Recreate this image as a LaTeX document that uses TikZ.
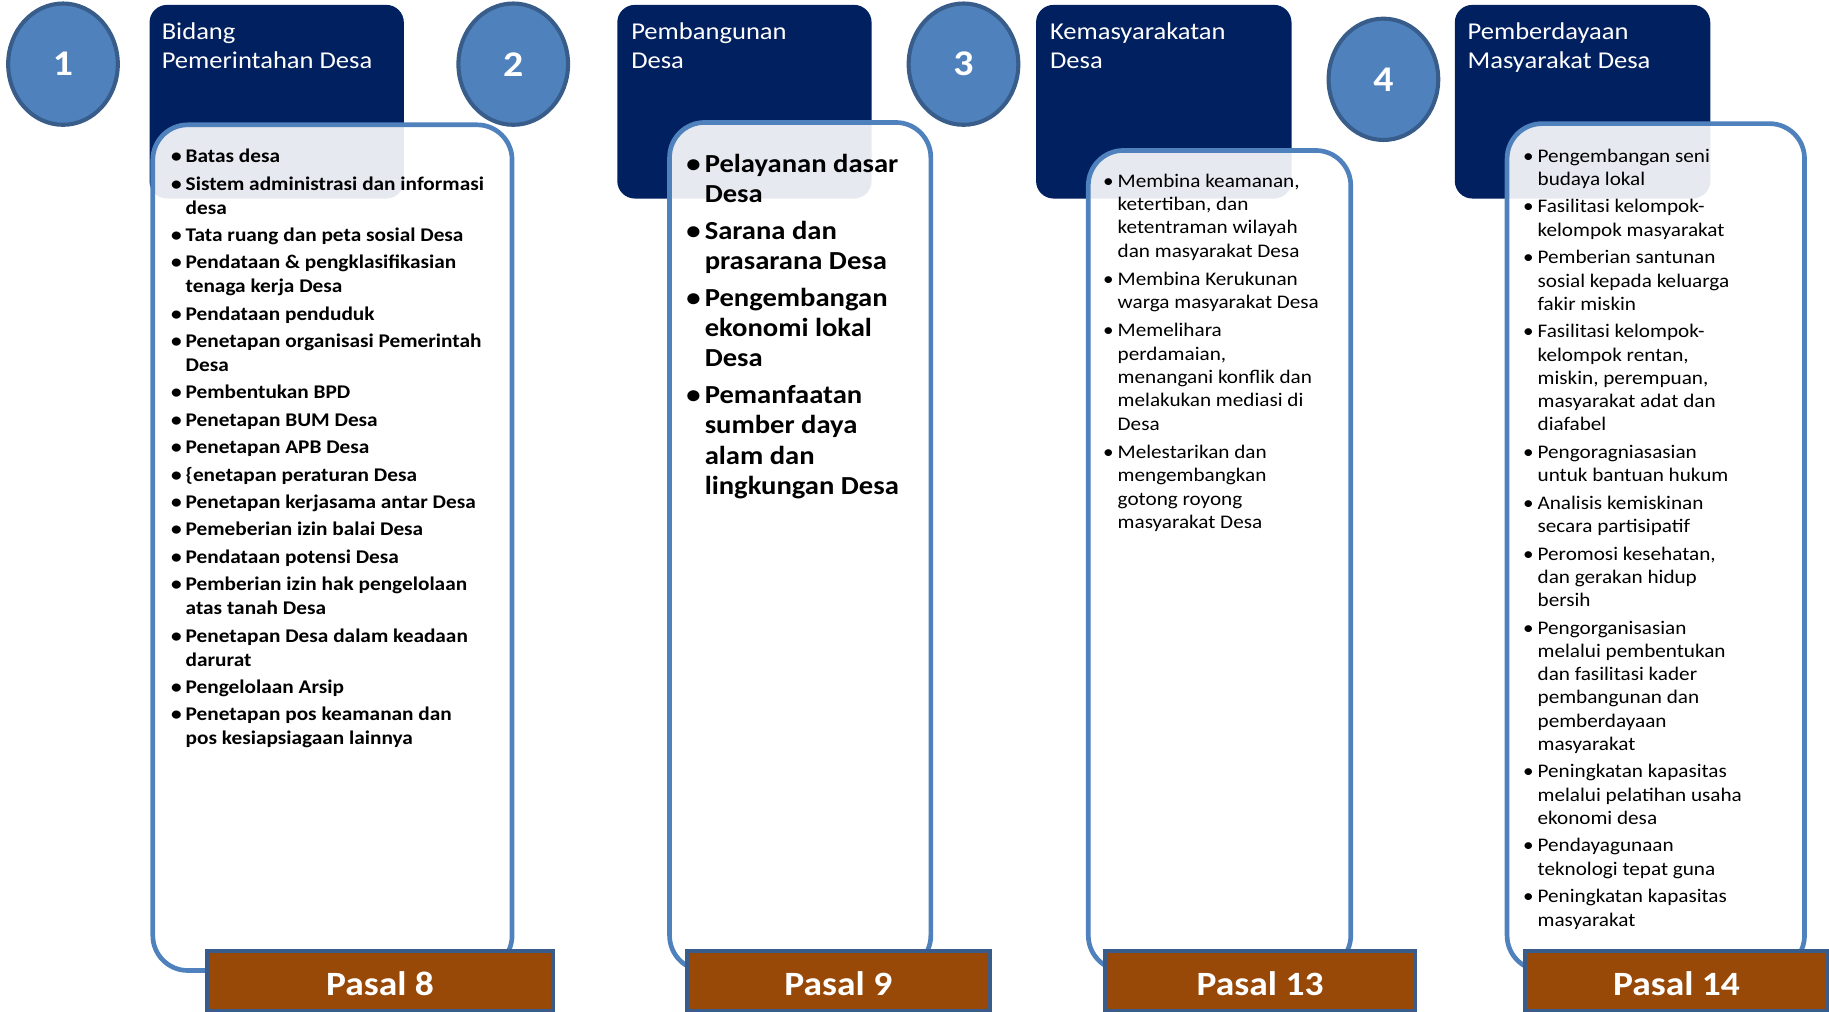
\documentclass[tikz,border=0pt]{standalone}
\usepackage{fontspec}
\setmainfont{Carlito}[FakeStretch=1.1]
\usetikzlibrary{shapes.geometric}
\definecolor{navy}{HTML}{002060}
\definecolor{discfill}{HTML}{4F81BD}
\definecolor{discedge}{HTML}{385D8A}
\definecolor{cardedge}{HTML}{4F81BD}
\definecolor{pasalfill}{HTML}{984807}
\definecolor{pasaledge}{HTML}{3A5C8A}

\newlength\bulw
% one bulleted entry with a hanging indent
\newcommand\itm[1]{\par\noindent\hangindent=\bulw\hangafter=1\makebox[\bulw][r]{\textbullet\kern3.5pt}#1\par}
% a column of entries: #1 gap between entries, #2 bullet width, #3 entries
\newcommand\entrylist[3]{\vtop{\hsize=360pt\raggedright\parindent=0pt\parskip=#1\relax\bulw=#2\relax #3}}

\begin{document}
\begin{tikzpicture}[x=1pt,y=-1pt,
  hdr/.style={fill=navy, draw=none, rounded corners=15pt, anchor=north west, inner sep=0pt},
  hdrtext/.style={text=white, anchor=base west, inner sep=0pt, align=left,
    font=\fontsize{20.7}{25}\selectfont},
  card/.style={draw=cardedge, line width=4pt, fill=white, fill opacity=0.9,
    rounded corners=30pt, anchor=north west, inner sep=0pt},
  disc/.style={ellipse, fill=discfill, draw=discedge, line width=3.5pt,
    minimum width=94pt, minimum height=104pt, inner sep=0pt, text=white,
    font=\bfseries\fontsize{31}{36}\selectfont},
  pasal/.style={fill=pasalfill, draw=pasaledge, line width=3.5pt, anchor=north west,
    inner sep=0pt, text=white, text height=24.7pt, text depth=0pt,
    font=\bfseries\fontsize{29.2}{34}\selectfont},
  entries/.style={anchor=base west, inner sep=0pt, text=black}]

\useasboundingbox (0,0) rectangle (1568,867);

% numbered discs
\node[disc] (c1) at (54,55) {1};
\node[disc] (c2) at (440,55) {2};
\node[disc] (c3) at (826,55) {3};
\node[disc] (c4) at (1186,68) {4};

% navy heading panels
\node[hdr, minimum width=218pt, minimum height=166pt] (h1) at (128,4) {};
\node[hdr, minimum width=218pt, minimum height=166pt] (h2) at (529,4) {};
\node[hdr, minimum width=219pt, minimum height=166pt] (h3) at (888,4) {};
\node[hdr, minimum width=219pt, minimum height=166pt] (h4) at (1247,4) {};

\node[hdrtext] (t1) at (138.5,58.6) {Bidang\\Pemerintahan Desa};
\node[hdrtext] (t2) at (541,58.6) {Pembangunan\\Desa};
\node[hdrtext] (t3) at (900,58.6) {Kemasyarakatan\\Desa};
\node[hdrtext] (t4) at (1258,58.6) {Pemberdayaan\\Masyarakat Desa};

% white cards
\node[card, minimum width=308pt, minimum height=725pt] (w1) at (129,105) {};
\node[card, minimum width=224pt, minimum height=727pt] (w2) at (572,103) {};
\node[card, minimum width=225pt, minimum height=703pt] (w3) at (931,127) {};
\node[card, minimum width=255pt, minimum height=726pt] (w4) at (1290,104) {};

% card contents
\node[entries, font=\bfseries\fontsize{16.6}{20.5}\selectfont] (l1) at (142,139.5) {\entrylist{3pt}{17pt}{%
\itm{Batas desa}
\itm{Sistem administrasi dan informasi\newline desa}
\itm{Tata ruang dan peta sosial Desa}
\itm{Pendataan \& pengklasifikasian\newline tenaga kerja Desa}
\itm{Pendataan penduduk}
\itm{Penetapan organisasi Pemerintah\newline Desa}
\itm{Pembentukan BPD}
\itm{Penetapan BUM Desa}
\itm{Penetapan APB Desa}
\itm{\{enetapan peraturan Desa}
\itm{Penetapan kerjasama antar Desa}
\itm{Pemeberian izin balai Desa}
\itm{Pendataan potensi Desa}
\itm{Pemberian izin hak pengelolaan\newline atas tanah Desa}
\itm{Penetapan Desa dalam keadaan\newline darurat}
\itm{Pengelolaan Arsip}
\itm{Penetapan pos keamanan dan\newline pos kesiapsiagaan lainnya}}};

\node[entries, font=\bfseries\fontsize{22.3}{26}\selectfont] (l2) at (584,148) {\entrylist{5.3pt}{20pt}{%
\itm{Pelayanan dasar\newline Desa}
\itm{Sarana dan\newline prasarana Desa}
\itm{Pengembangan\newline ekonomi lokal\newline Desa}
\itm{Pemanfaatan\newline sumber daya\newline alam dan\newline lingkungan Desa}}};

\node[entries, font=\fontsize{16.5}{20}\selectfont] (l3) at (941,160.5) {\entrylist{4.2pt}{17pt}{%
\itm{Membina keamanan,\newline ketertiban, dan\newline ketentraman wilayah\newline dan masyarakat Desa}
\itm{Membina Kerukunan\newline warga masyarakat Desa}
\itm{Memelihara\newline perdamaian,\newline menangani konflik dan\newline melakukan mediasi di\newline Desa}
\itm{Melestarikan dan\newline mengembangkan\newline gotong royong\newline masyarakat Desa}}};

\node[entries, font=\fontsize{16.5}{19.9}\selectfont] (l4) at (1301,139) {\entrylist{3.8pt}{17pt}{%
\itm{Pengembangan seni\newline budaya lokal}
\itm{Fasilitasi kelompok-\newline kelompok masyarakat}
\itm{Pemberian santunan\newline sosial kepada keluarga\newline fakir miskin}
\itm{Fasilitasi kelompok-\newline kelompok rentan,\newline miskin, perempuan,\newline masyarakat adat dan\newline diafabel}
\itm{Pengoragniasasian\newline untuk bantuan hukum}
\itm{Analisis kemiskinan\newline secara partisipatif}
\itm{Peromosi kesehatan,\newline dan gerakan hidup\newline bersih}
\itm{Pengorganisasian\newline melalui pembentukan\newline dan fasilitasi kader\newline pembangunan dan\newline pemberdayaan\newline masyarakat}
\itm{Peningkatan kapasitas\newline melalui pelatihan usaha\newline ekonomi desa}
\itm{Pendayagunaan\newline teknologi tepat guna}
\itm{Peningkatan kapasitas\newline masyarakat}}};

% article labels
\node[pasal, minimum width=296pt, minimum height=51.5pt] (p1) at (176,813.5) {Pasal 8};
\node[pasal, minimum width=260pt, minimum height=51.5pt] (p2) at (587,813.5) {Pasal 9};
\node[pasal, minimum width=265pt, minimum height=51.5pt] (p3) at (946,813.5) {Pasal 13};
\node[pasal, minimum width=259pt, minimum height=51.5pt] (p4) at (1306,813.5) {Pasal 14};
\end{tikzpicture}
\end{document}
